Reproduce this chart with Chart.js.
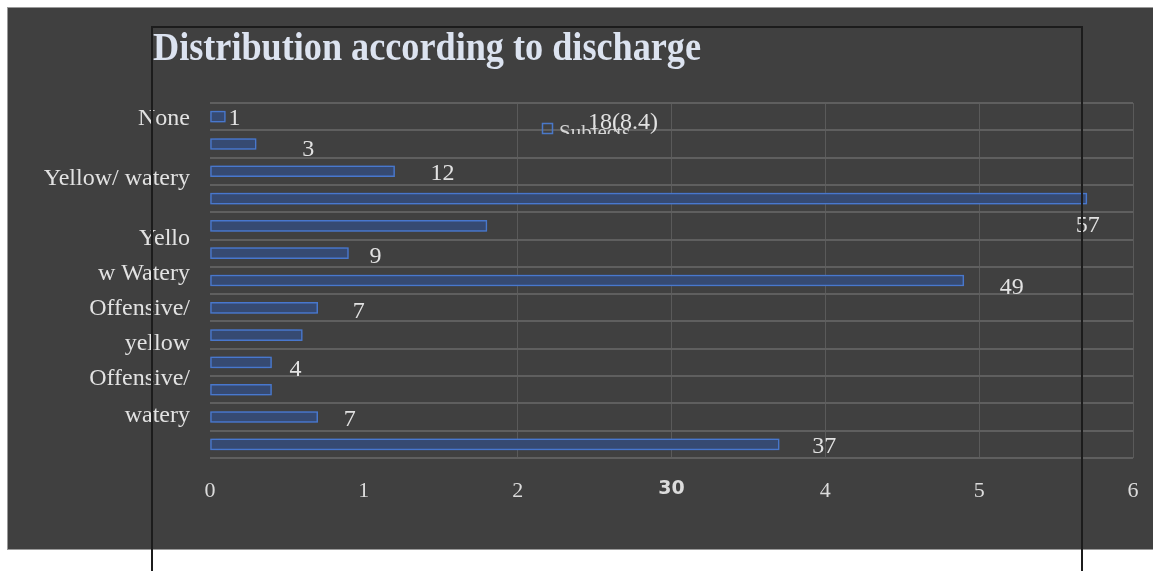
<!DOCTYPE html>
<html>
<head>
<meta charset="utf-8">
<script src="https://cdn.jsdelivr.net/npm/chart.js@4"></script>
<style>
body{margin:0;background:#fff;}
#wrap{width:1153px;height:571px;position:relative;}
</style>
</head>
<body>
<div id="wrap"><canvas id="chart" width="1153" height="571"></canvas></div>
<script>
// data
const categories=["r1","r2","r3","r4","r5","r6","r7","r8","r9","r10","r11","r12","r13"];
const subjects=[1,3,12,57,18,9,49,7,6,4,4,7,37];
const barLabels=["1","3","12","57","18(8.4)","9","49","7","","4","","7","37"];
const tickLabels=["0","1","2","30","4","5","6"];
const sideLabels=["None","Yellow/ watery","Yello","w Watery","Offensive/","yellow","Offensive/","watery"];
const sideLabelRow=[0.07,2.27,4.46,5.75,7.02,8.31,9.59,10.95];

// where each value label sits relative to its bar end (the source is messy)
const labelNudge=[[3,2],[46,6],[36,2],[-11,27],[101,-103],[21,4],[36,7],[35,4],[0,0],[18,7],[0,0],[26,3],[33,2]];

const serif="'Liberation Serif', 'DejaVu Serif', serif";
const gridColor="#5a5a5a";

const backdrop={
 id:"backdrop",
 beforeDraw(chart){
  const c=chart.ctx;
  c.save();
  c.fillStyle="#fff";
  c.fillRect(0,0,chart.width,chart.height);
  c.fillStyle="#404040";
  c.fillRect(7,7,chart.width-7,542);
  c.strokeStyle="#9a9a9a";
  c.lineWidth=1;
  c.strokeRect(7.5,7.5,chart.width,542);
  c.restore();
 }
};

const glow={
 id:"glow",
 beforeDatasetsDraw(chart){
  chart.ctx.save();
  chart.ctx.shadowColor="rgba(70,120,220,0.75)";
  chart.ctx.shadowBlur=8;
 },
 afterDatasetsDraw(chart){
  chart.ctx.restore();
 }
};

const extras={
 id:"extras",
 afterDraw(chart){
  const c=chart.ctx;
  const y=chart.scales.y;
  const bars=chart.getDatasetMeta(0).data;
  c.save();

  // category text on the left, set where the source put it
  c.fillStyle="#e2e2e2";
  c.font="24px "+serif;
  c.textBaseline="middle";
  c.textAlign="right";
  sideLabels.forEach((t,i)=>c.fillText(t,190,y.getPixelForValue(sideLabelRow[i])));

  // value labels
  c.textAlign="left";
  c.font="24px "+serif;
  bars.forEach((b,i)=>{
   if(!barLabels[i]) return;
   c.fillText(barLabels[i],b.x+labelNudge[i][0],b.y+labelNudge[i][1]);
  });

  // legend
  c.strokeStyle="#4a78c8";
  c.lineWidth=1.5;
  c.strokeRect(542.5,123.5,10,10);
  c.save();
  c.beginPath();
  c.rect(555,110,100,24);
  c.clip();
  c.fillStyle="#d4d4d4";
  c.font="21px "+serif;
  c.textBaseline="alphabetic";
  c.fillText("Subjects",559,139);
  c.restore();

  // title, stretched to the width it has in the source
  const title="Distribution according to discharge";
  c.fillStyle="#dce3f0";
  c.font="bold 40px "+serif;
  c.textBaseline="alphabetic";
  const w=c.measureText(title).width;
  c.save();
  c.translate(153,60);
  c.scale(548/w,1);
  c.fillText(title,0,0);
  c.restore();

  // black frame on top
  c.strokeStyle="#1c1c1c";
  c.lineWidth=2;
  c.beginPath();
  c.moveTo(152,chart.height);
  c.lineTo(152,27);
  c.lineTo(1082,27);
  c.lineTo(1082,chart.height);
  c.stroke();
  c.restore();
 }
};

new Chart(document.getElementById("chart"),{
 type:"bar",
 data:{
  labels:categories,
  datasets:[{
   label:"Subjects",
   data:subjects,
   backgroundColor:"#364a72",
   borderColor:"#4a78c8",
   borderWidth:1.5,
   barThickness:11,
   borderSkipped:false
  }]
 },
 options:{
  indexAxis:"y",
  responsive:false,
  animation:false,
  devicePixelRatio:1,
  layout:{padding:{left:0,top:103,right:20,bottom:0}},
  plugins:{legend:{display:false},tooltip:{enabled:false}},
  scales:{
   x:{
    min:0,max:60,
    ticks:{
     stepSize:10,
     padding:20,
     color:"#dcdcdc",
     font:(ctx)=>ctx.index===3?{family:"'DejaVu Sans', sans-serif",size:19,weight:"bold"}:{family:serif,size:22},
     callback:(v,i)=>tickLabels[i]
    },
    grid:{
     drawTicks:false,
     color:(ctx)=>ctx.index<2?"rgba(0,0,0,0)":gridColor,
     lineWidth:1
    },
    border:{display:false},
    afterFit(s){s.height=113;s.paddingRight=0;s.paddingLeft=0;}
   },
   y:{
    ticks:{display:false},
    grid:{color:"#5f5f5f",lineWidth:2,drawTicks:false},
    border:{display:false},
    afterFit(s){s.width=210;}
   }
  }
 },
 plugins:[backdrop,glow,extras]
});
</script>
</body>
</html>
